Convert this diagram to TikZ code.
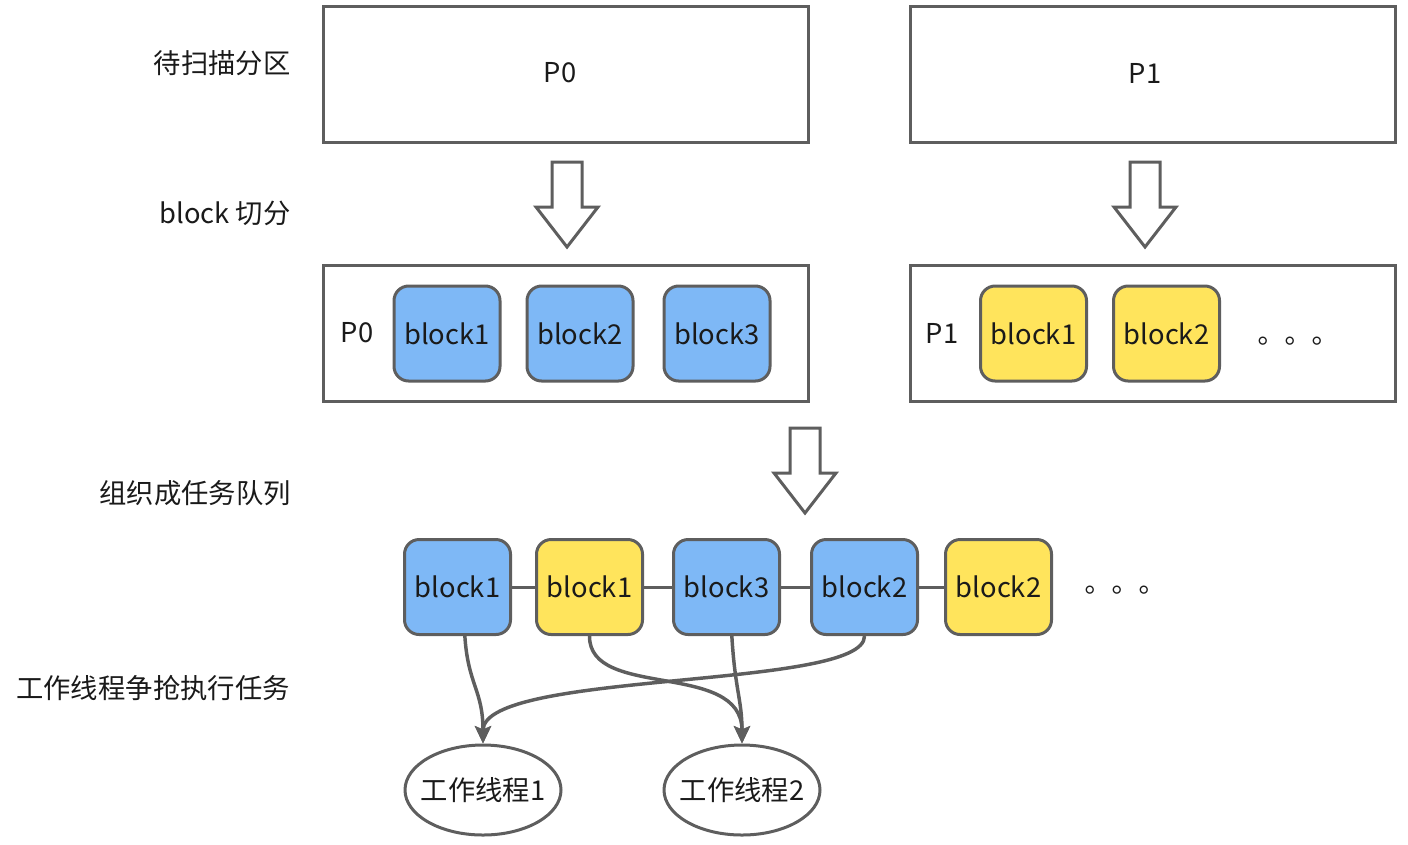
\documentclass[tikz,border=0pt]{standalone}
\usepackage{fontspec}
\setmainfont{Noto Sans CJK SC}
\newfontfamily\tcfont{Noto Sans CJK TC}
\usetikzlibrary{arrows.meta,shapes.geometric}
\definecolor{edge}{HTML}{5E5E5E}
\definecolor{bluef}{HTML}{7EB8F6}
\definecolor{yellowf}{HTML}{FFE45C}
\definecolor{txt}{HTML}{1A1A1A}
\tikzset{
  every node/.style={font=\fontsize{20.5}{24}\selectfont, text=txt},
  bigbox/.style={draw=edge, line width=2.25pt, fill=white, minimum width=363.75pt, minimum height=102pt, inner sep=0pt},
  blk/.style={draw=edge, line width=2.25pt, rounded corners=11pt, minimum width=79.5pt, minimum height=71.25pt, inner sep=0pt},
  blueblk/.style={blk, fill=bluef},
  yellowblk/.style={blk, fill=yellowf},
  worker/.style={draw=edge, line width=2.25pt, ellipse, minimum width=117pt, minimum height=67.5pt, inner xsep=-6pt, inner ysep=0pt},
  link/.style={draw=edge, line width=2.25pt},
  conn/.style={draw=edge, line width=2.6pt, -{Stealth[length=13pt, width=12pt, inset=2.5pt]}},
  harrow/.style={draw=edge, line width=2.25pt, fill=white, line join=miter},
}
\newcommand\hollowdown[2]{%
  \draw[harrow] (#1-15,#2) -- (#1+15,#2) -- (#1+15,#2+45) -- (#1+31,#2+45)
    -- (#1,#2+85) -- (#1-31,#2+45) -- (#1-15,#2+45) -- cycle;}
\begin{document}
\begin{tikzpicture}[x=0.75pt, y=-0.75pt]
\useasboundingbox (0,0) rectangle (1408,844);
% row labels
\node (l1) at (222,63) {待扫描分区};
\node (l2) at (225,213) {block 切分};
\node (l3) at (195,493) {组织成任务队列};
\node (l4) at (153,688) {工作线程争抢执行任务};
% top partitions
\node[bigbox] (p0) at (565.5,74) {};
\node[bigbox] (p1) at (1152.5,74) {};
\node (p0l) at (560,73) {P0};
\node (p1l) at (1145,73) {P1};
% hollow arrows
\hollowdown{567}{162}
\hollowdown{1145}{162}
% split partitions
\node[bigbox] (s0) at (565.5,333.5) {};
\node[bigbox] (s1) at (1152.5,333.5) {};
\node (s0l) at (357,333) {P0};
\node (s1l) at (942,333) {P1};
\node[blueblk] (a1) at (447,333.5) {block1};
\node[blueblk] (a2) at (580,333.5) {block2};
\node[blueblk] (a3) at (717,333.5) {block3};
\node[yellowblk] (b1) at (1033.5,333.5) {block1};
\node[yellowblk] (b2) at (1166.5,333.5) {block2};
\node (bdots) at (1290,344) {\tcfont 。。。};
% arrow to queue
\hollowdown{805}{428}
% queue
\node[blueblk] (q1) at (457.5,587) {block1};
\node[yellowblk] (q2) at (589.5,587) {block1};
\node[blueblk] (q3) at (726.5,587) {block3};
\node[blueblk] (q4) at (864.5,587) {block2};
\node[yellowblk] (q5) at (998.5,587) {block2};
\node (qdots) at (1117,593) {\tcfont 。。。};
\draw[link] (q1) -- (q2);
\draw[link] (q2) -- (q3);
\draw[link] (q3) -- (q4);
\draw[link] (q4) -- (q5);
% workers
\node[worker] (w1) at (483,790) {工作线程1};
\node[worker] (w2) at (742,790) {工作线程2};
\path[conn] ([xshift=5.5pt]q1.south) .. controls (468,685) and (483,690) .. (w1.north);
\path[conn] (q2.south) .. controls (589,700) and (742,660) .. (w2.north);
\path[conn] ([xshift=4pt]q3.south) .. controls (735,690) and (742,700) .. (w2.north);
\path[conn] (q4.south) .. controls (865,690) and (483,670) .. (w1.north);
\end{tikzpicture}
\end{document}
